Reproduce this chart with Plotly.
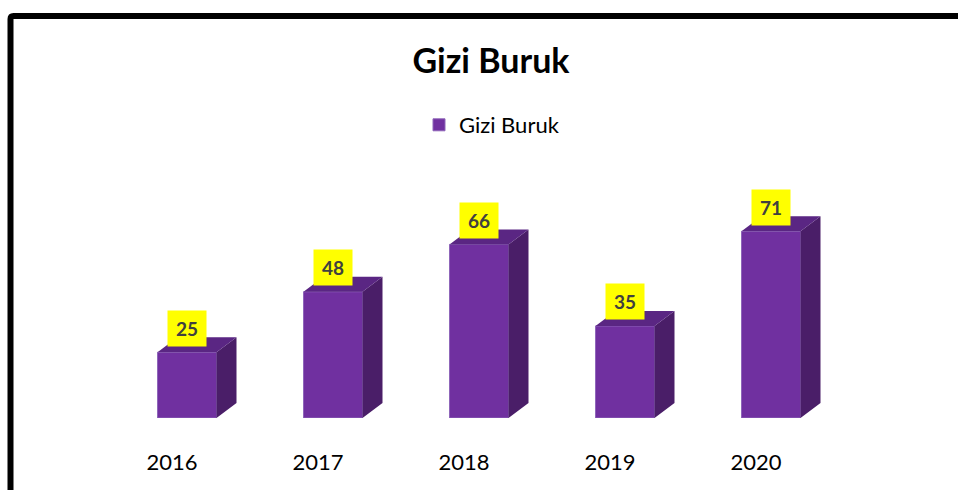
import plotly.graph_objects as go

# ---- data ----
years = ["2016", "2017", "2018", "2019", "2020"]
values = [25, 48, 66, 35, 71]
series_name = "Gizi Buruk"
chart_title = "Gizi Buruk"

# ---- style / layout constants ----
W, H = 958, 490
L, R, T, B = 99, 129, 155, 72
Y_MAX = 100
FONT = "Lato"
FRONT = "#7030A0"
SIDE = "#4A1E68"
TOP = "#5A2683"

plot_w = W - L - R
plot_h = H - T - B
px_per_cat = plot_w / len(years)
px_per_unit = plot_h / Y_MAX

bar_w = 59 / px_per_cat      # front face width (category units)
bar_off = 15 / px_per_cat    # shift of bar from tick centre
dx = 20 / px_per_cat         # depth offset (x)
dy = 15 / px_per_unit        # depth offset (y)

xs = list(range(len(years)))
bar_x = [i + bar_off for i in xs]

fig = go.Figure()

fig.add_trace(go.Bar(
    x=bar_x, y=values, width=bar_w, name=series_name,
    marker=dict(color=FRONT, line=dict(color="#8F66BA", width=1)),
    hoverinfo="skip",
))

side_x, side_y, top_x, top_y = [], [], [], []
for cx, v in zip(bar_x, values):
    xl, xr = cx - bar_w / 2, cx + bar_w / 2
    side_x += [xr, xr + dx, xr + dx, xr, xr, None]
    side_y += [0, dy, v + dy, v, 0, None]
    top_x += [xl, xl + dx, xr + dx, xr, xl, None]
    top_y += [v, v + dy, v + dy, v, v, None]

fig.add_trace(go.Scatter(x=side_x, y=side_y, mode="lines", fill="toself",
                         fillcolor=SIDE, line=dict(width=0, color=SIDE),
                         showlegend=False, hoverinfo="skip", cliponaxis=False))
fig.add_trace(go.Scatter(x=top_x, y=top_y, mode="lines", fill="toself",
                         fillcolor=TOP, line=dict(width=0, color=TOP),
                         showlegend=False, hoverinfo="skip", cliponaxis=False))

for cx, v in zip(bar_x, values):
    fig.add_annotation(
        x=cx, y=v, xref="x", yref="y", yshift=24, showarrow=False,
        text=f"<b>{v}</b>", bgcolor="#FFFF00", width=36, height=33,
        font=dict(family=FONT, size=19, color="#404040"),
    )

# chart border (pixel positions converted to paper coords)
def px_to_paper_x(px):
    return (px - L) / plot_w

def px_to_paper_y(py):
    return (H - B - py) / plot_h

bx0, by0 = px_to_paper_x(10.5), px_to_paper_y(16)
bx1, by1 = px_to_paper_x(W + 20), px_to_paper_y(H + 20)
r_x = px_to_paper_x(13.5) - bx0
r_y = by0 - px_to_paper_y(19)
fig.add_shape(
    type="path", xref="paper", yref="paper",
    path=(f"M {bx0},{by1} L {bx0},{by0 - r_y} "
          f"Q {bx0},{by0} {bx0 + r_x},{by0} L {bx1},{by0}"),
    line=dict(color="black", width=6), layer="above",
)

fig.update_layout(
    width=W, height=H,
    margin=dict(l=L, r=R, t=T, b=B),
    paper_bgcolor="white", plot_bgcolor="white",
    font=dict(family=FONT, color="black"),
    title=dict(text=f"<b>{chart_title}</b>", x=491 / W, xanchor="center",
               y=1 - 61 / H, yanchor="middle", yref="container",
               font=dict(family=FONT, size=34, color="black")),
    showlegend=True,
    legend=dict(orientation="h", x=px_to_paper_x(419), y=px_to_paper_y(125),
                xanchor="left", yanchor="middle",
                font=dict(family=FONT, size=22, color="black"),
                bgcolor="rgba(0,0,0,0)", itemclick=False),
    xaxis=dict(range=[-0.5, len(years) - 0.5], tickvals=xs, ticktext=years,
               ticks="outside", ticklen=25, tickcolor="rgba(0,0,0,0)",
               showgrid=False, zeroline=False, showline=False,
               tickfont=dict(family=FONT, size=22, color="black"),
               fixedrange=True),
    yaxis=dict(range=[0, Y_MAX], visible=False, fixedrange=True),
    bargap=0,
)

fig.write_html(
    "out.html",
    config={"displayModeBar": False, "staticPlot": True},
    post_script="document.body.style.margin='0';document.body.style.overflow='hidden';",
)
